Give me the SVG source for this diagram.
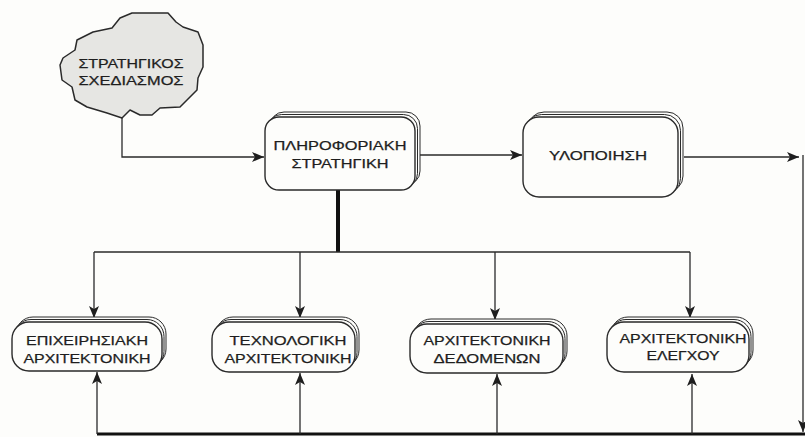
<svg xmlns="http://www.w3.org/2000/svg" width="805" height="437" viewBox="0 0 805 437">
<style>
.bg{fill:#fdfdfb}
.fr{fill:#fdfdfb;stroke:#2a2a2a;stroke-width:1.4}
.sh{fill:#fdfdfb;stroke:#2a2a2a;stroke-width:1}
.cl{fill:#e6e6e3;stroke:#2a2a2a;stroke-width:1.5;stroke-linejoin:round}
.t{font-family:"Liberation Sans",Arial,sans-serif;font-size:12.5px;fill:#1e1e1e;stroke:#1e1e1e;stroke-width:0.25;text-anchor:middle}
.ln{fill:none;stroke:#2a2a2a;stroke-width:1.3}
.th{fill:none;stroke:#111;stroke-width:4}
.bt{fill:none;stroke:#111;stroke-width:3}
</style>
<defs>
<marker id="ah" viewBox="0 0 12 10" refX="12" refY="5" markerWidth="12" markerHeight="10" markerUnits="userSpaceOnUse" orient="auto">
<path d="M0,0 L12,5 L0,10 L3,5 Z" fill="#1e1e1e"/>
</marker>
</defs>
<rect class="bg" x="0" y="0" width="805" height="437"/>

<g id="connectors">
<path class="ln" d="M122,118 V157 H264" marker-end="url(#ah)"/>
<path class="ln" d="M416,155 H522" marker-end="url(#ah)"/>
<path class="ln" d="M684,157 H799" marker-end="url(#ah)"/>
<path class="ln" d="M803,155 V432" marker-end="url(#ah)"/>
<path class="th" d="M338,190 V252"/>
<path class="ln" d="M94,252 H690"/>
<path class="ln" d="M94,252 V318" marker-end="url(#ah)"/>
<path class="ln" d="M300,252 V318" marker-end="url(#ah)"/>
<path class="ln" d="M495,252 V320" marker-end="url(#ah)"/>
<path class="ln" d="M690,252 V318" marker-end="url(#ah)"/>
<path class="bt" d="M97,434 H805"/>
<path class="ln" d="M97,434 V372" marker-end="url(#ah)"/>
<path class="ln" d="M300,434 V373" marker-end="url(#ah)"/>
<path class="ln" d="M497,434 V374" marker-end="url(#ah)"/>
<path class="ln" d="M692,434 V374" marker-end="url(#ah)"/>
</g>

<g id="strategic-planning">
<path class="cl" d="M132,13 L168,13 L176,22 L183,27 L198,32 L203,45 L203,67 L198,78 L197,90 L187,100 L180,107 L160,108 L152,115 L140,115 L130,110 L122,118 L107,113 L87,107 L75,100 L72,87 L62,80 L60,65 L63,58 L75,50 L77,40 L93,32 L112,28 L120,18 Z"/>
<text class="t" x="131" y="68" textLength="105" lengthAdjust="spacingAndGlyphs">ΣΤΡΑΤΗΓΙΚΟΣ</text>
<text class="t" x="131" y="85" textLength="105" lengthAdjust="spacingAndGlyphs">ΣΧΕΔΙΑΣΜΟΣ</text>
</g>

<g id="information-strategy">
<rect class="sh" x="270" y="112" width="150" height="73" rx="14"/>
<rect class="sh" x="267.5" y="114.5" width="150" height="73" rx="14"/>
<rect class="fr" x="265" y="117" width="150" height="73" rx="14"/>
<text class="t" x="340" y="150" textLength="133" lengthAdjust="spacingAndGlyphs">ΠΛΗΡΟΦΟΡΙΑΚΗ</text>
<text class="t" x="340" y="168" textLength="97" lengthAdjust="spacingAndGlyphs">ΣΤΡΑΤΗΓΙΚΗ</text>
</g>

<g id="implementation">
<rect class="sh" x="528" y="112" width="155" height="80" rx="16"/>
<rect class="sh" x="525.5" y="114.5" width="155" height="80" rx="16"/>
<rect class="fr" x="523" y="117" width="155" height="80" rx="16"/>
<text class="t" x="598" y="160" textLength="98" lengthAdjust="spacingAndGlyphs">ΥΛΟΠΟΙΗΣΗ</text>
</g>

<g id="business-architecture">
<rect class="sh" x="16" y="317" width="150" height="49" rx="17"/>
<rect class="sh" x="14" y="319.5" width="150" height="49" rx="17"/>
<rect class="fr" x="12" y="322" width="150" height="49" rx="17"/>
<text class="t" x="87" y="345" textLength="122" lengthAdjust="spacingAndGlyphs">ΕΠΙΧΕΙΡΗΣΙΑΚΗ</text>
<text class="t" x="87" y="363" textLength="127" lengthAdjust="spacingAndGlyphs">ΑΡΧΙΤΕΚΤΟΝΙΚΗ</text>
</g>

<g id="technology-architecture">
<rect class="sh" x="216" y="317" width="143" height="50" rx="17"/>
<rect class="sh" x="214" y="319.5" width="143" height="50" rx="17"/>
<rect class="fr" x="212" y="322" width="143" height="50" rx="17"/>
<text class="t" x="288" y="345" textLength="117" lengthAdjust="spacingAndGlyphs">ΤΕΧΝΟΛΟΓΙΚΗ</text>
<text class="t" x="288" y="363" textLength="127" lengthAdjust="spacingAndGlyphs">ΑΡΧΙΤΕΚΤΟΝΙΚΗ</text>
</g>

<g id="data-architecture">
<rect class="sh" x="414" y="319" width="153" height="49" rx="17"/>
<rect class="sh" x="412" y="321.5" width="153" height="49" rx="17"/>
<rect class="fr" x="410" y="324" width="153" height="49" rx="17"/>
<text class="t" x="487" y="345" textLength="127" lengthAdjust="spacingAndGlyphs">ΑΡΧΙΤΕΚΤΟΝΙΚΗ</text>
<text class="t" x="487" y="363" textLength="107" lengthAdjust="spacingAndGlyphs">ΔΕΔΟΜΕΝΩΝ</text>
</g>

<g id="control-architecture">
<rect class="sh" x="611" y="317" width="142" height="50" rx="17"/>
<rect class="sh" x="609" y="319.5" width="142" height="50" rx="17"/>
<rect class="fr" x="607" y="322" width="142" height="50" rx="17"/>
<text class="t" x="683" y="343" textLength="127" lengthAdjust="spacingAndGlyphs">ΑΡΧΙΤΕΚΤΟΝΙΚΗ</text>
<text class="t" x="683" y="360" textLength="73" lengthAdjust="spacingAndGlyphs">ΕΛΕΓΧΟΥ</text>
</g>
</svg>
